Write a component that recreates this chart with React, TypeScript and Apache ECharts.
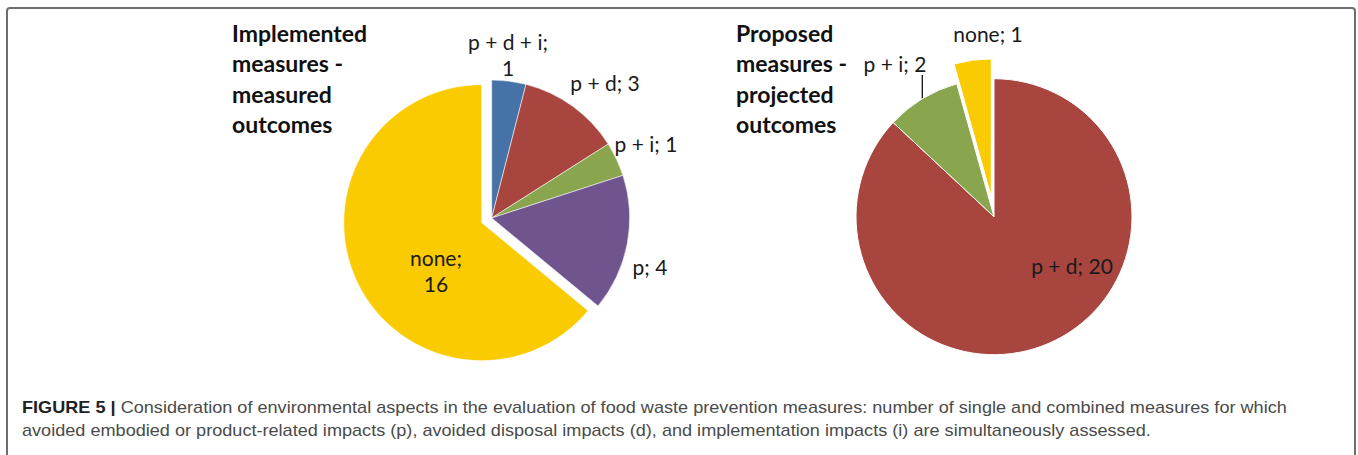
import React, { useEffect, useRef } from "react";
import * as echarts from "echarts";

// ---- data ----
const implementedNames = ["p + d + i", "p + d", "p + i", "p", "none"];
const implementedValues = [1, 3, 1, 4, 16];
const proposedNames = ["p + d", "p + i", "none"];
const proposedValues = [20, 2, 1];

const implementedTitle = ["Implemented", "measures -", "measured", "outcomes"];
const proposedTitle = ["Proposed", "measures -", "projected", "outcomes"];
const captionLead = "FIGURE 5 |";
const captionLine1 =
  " Consideration of environmental aspects in the evaluation of food waste prevention measures: number of single and combined measures for which";
const captionLine2 =
  "avoided embodied or product-related impacts (p), avoided disposal impacts (d), and implementation impacts (i) are simultaneously assessed.";

// ---- styles / layout ----
const implementedColors = ["#4572A7", "#A8453F", "#89A54E", "#6F548E", "#FACB00"];
const proposedColors = ["#A8453F", "#89A54E", "#FACB00"];
const implementedWrap = [true, false, false, false, true];
const proposedWrap = [false, false, false];
const implementedExploded = [false, false, false, false, true];
const proposedExploded = [false, false, true];
const implementedLabelPos = [
  [508, 54],
  [605, 82],
  [646, 143],
  [650, 266],
  [436, 270],
];
const proposedLabelPos = [
  [1072, 265],
  [895, 63],
  [988, 33],
];
const implementedLeaderTop: (number | null)[] = [null, null, null, null, null];
const proposedLeaderTop: (number | null)[] = [null, 75, null];

const LABEL_FONT = "Lato";
const CAPTION_FONT = "Liberation Sans";
const CLEAR = "rgba(0,0,0,0)";

function measure(text: string, font: string): number {
  const c = document.createElement("canvas");
  const ctx = c.getContext("2d");
  if (!ctx) return text.length * 8;
  ctx.font = font;
  return ctx.measureText(text).width;
}

interface PieSpec {
  names: string[];
  values: number[];
  colors: string[];
  wrap: boolean[];
  exploded: boolean[];
  labelPos: number[][];
  leaderTop: (number | null)[];
  center: [number, number];
  radius: number;
  offset: number;
  border: { color: string; width: number };
}

function buildPie(spec: PieSpec): any[] {
  const total = spec.values.reduce((a, b) => a + b, 0);
  const labelBase = {
    show: true,
    color: "#1a1a1a",
    fontFamily: LABEL_FONT,
    fontSize: 21,
    lineHeight: 26,
  };
  const makeSeries = (visible: (i: number) => boolean, center: number[]) => ({
    type: "pie",
    center,
    radius: spec.radius,
    startAngle: 90,
    clockwise: true,
    avoidLabelOverlap: false,
    silent: true,
    labelLayout: (params: any) => {
      const p = spec.labelPos[params.dataIndex];
      const res: any = { x: p[0], y: p[1], align: "center", verticalAlign: "middle" };
      const top = spec.leaderTop[params.dataIndex];
      if (top != null && params.labelLinePoints && params.labelLinePoints.length) {
        const p0 = params.labelLinePoints[0];
        res.labelLinePoints = [
          [p0[0], p0[1]],
          [p0[0], top],
        ];
      }
      return res;
    },
    data: spec.names.map((n, i) => {
      const vis = visible(i);
      return {
        name: n,
        value: spec.values[i],
        itemStyle: vis
          ? { color: spec.colors[i], borderColor: spec.border.color, borderWidth: spec.border.width }
          : { color: CLEAR, borderWidth: 0 },
        label: vis
          ? { ...labelBase, formatter: spec.wrap[i] ? "{b};\n{c}" : "{b}; {c}" }
          : { show: false },
        labelLine: {
          show: vis && spec.leaderTop[i] != null,
          length: 12,
          length2: 0,
          lineStyle: { color: "#111", width: 1.3 },
        },
      };
    }),
  });

  const series: any[] = [makeSeries((i) => !spec.exploded[i], spec.center)];
  let cum = 0;
  spec.values.forEach((v, i) => {
    if (spec.exploded[i]) {
      const mid = ((90 - (360 * (cum + v / 2)) / total) * Math.PI) / 180;
      const c = [
        spec.center[0] + spec.offset * Math.cos(mid),
        spec.center[1] - spec.offset * Math.sin(mid),
      ];
      series.push(makeSeries((k) => k === i, c));
    }
    cum += v;
  });
  return series;
}

export default function App() {
  const ref = useRef<HTMLDivElement>(null);

  useEffect(() => {
    if (!ref.current) return;
    const chart = echarts.init(ref.current, undefined, { renderer: "svg" });

    const capSize = 16;
    const w1 =
      measure(captionLead, `bold ${capSize}px "${CAPTION_FONT}"`) +
      measure(captionLine1, `${capSize}px "${CAPTION_FONT}"`);
    const capScale = (1287 - 22) / w1;

    const titleStyle = {
      fill: "#111",
      font: `bold 23px "${LABEL_FONT}"`,
      lineHeight: 30.5,
      verticalAlign: "middle",
      align: "left",
    };

    const series = [
      ...buildPie({
        names: implementedNames,
        values: implementedValues,
        colors: implementedColors,
        wrap: implementedWrap,
        exploded: implementedExploded,
        labelPos: implementedLabelPos,
        leaderTop: implementedLeaderTop,
        center: [491.7, 218],
        radius: 138,
        offset: 11,
        border: { color: "rgba(255,255,255,0.7)", width: 0.8 },
      }),
      ...buildPie({
        names: proposedNames,
        values: proposedValues,
        colors: proposedColors,
        wrap: proposedWrap,
        exploded: proposedExploded,
        labelPos: proposedLabelPos,
        leaderTop: proposedLeaderTop,
        center: [994, 216.7],
        radius: 138,
        offset: 20,
        border: { color: "#ffffff", width: 1 },
      }),
    ];

    chart.setOption({
      animation: false,
      backgroundColor: "#ffffff",
      series,
      graphic: [
        {
          type: "rect",
          shape: { x: 7, y: 8, width: 1348, height: 470, r: 3 },
          style: { fill: "none", stroke: "#6e6e6e", lineWidth: 2 },
          silent: true,
        },
        {
          type: "text",
          x: 232,
          y: 78.5,
          style: { ...titleStyle, text: implementedTitle.join("\n") },
        },
        {
          type: "text",
          x: 736,
          y: 78.5,
          style: { ...titleStyle, text: proposedTitle.join("\n") },
        },
        {
          type: "text",
          x: 22,
          y: 408,
          scaleX: capScale,
          style: {
            text: `{b|${captionLead}}{r|${captionLine1}}`,
            verticalAlign: "middle",
            align: "left",
            rich: {
              b: {
                fontFamily: CAPTION_FONT,
                fontWeight: "bold",
                fontSize: capSize,
                fill: "#222222",
                color: "#222222",
              },
              r: {
                fontFamily: CAPTION_FONT,
                fontSize: capSize,
                fill: "#4a4a4a",
                color: "#4a4a4a",
              },
            },
          },
        },
        {
          type: "text",
          x: 22,
          y: 431,
          scaleX: capScale,
          style: {
            text: captionLine2,
            fill: "#4a4a4a",
            font: `${capSize}px "${CAPTION_FONT}"`,
            verticalAlign: "middle",
            align: "left",
          },
        },
      ],
    });

    return () => chart.dispose();
  }, []);

  return (
    <div
      ref={ref}
      style={{ position: "absolute", left: 0, top: 0, width: 1358, height: 455 }}
    />
  );
}
